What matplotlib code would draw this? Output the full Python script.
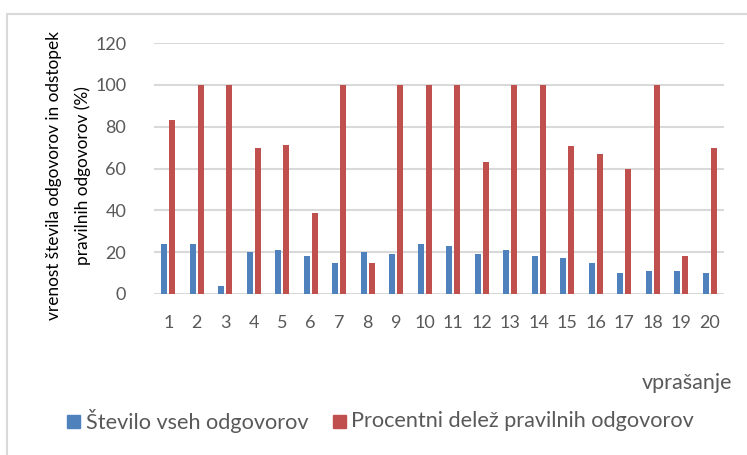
import matplotlib.pyplot as plt
import numpy as np
from matplotlib.patches import Rectangle

plt.rcParams['font.family'] = ['Lato', 'DejaVu Sans']

vprasanja = [str(i) for i in range(1, 21)]
st_odgovorov = [24, 24, 4, 20, 21, 18, 15, 20, 19, 24, 23, 19, 21, 18, 17, 15, 10, 11, 11, 10]
delez_pravilnih = [83.3, 100, 100, 70, 71.4, 38.9, 100, 15, 100, 100, 100, 63.2, 100, 100,
                   70.6, 66.7, 60, 100, 18.2, 70]
serije = ['Število vseh odgovorov', 'Procentni delež pravilnih odgovorov']

modra = '#4F81BD'
rdeca = '#C0504D'
siva = '#595959'

W, H = 747, 455
fig = plt.figure(figsize=(W / 100, H / 100), dpi=100)
ax = fig.add_axes([154 / W, 1 - 294 / H, 570 / W, 251 / H])

x = np.arange(len(vprasanja))
w = 0.21
ax.bar(x - 0.145, st_odgovorov, w, color=modra, zorder=3)
ax.bar(x + 0.145, delez_pravilnih, w, color=rdeca, zorder=3)

ax.set_xlim(-0.5, len(vprasanja) - 0.5)
ax.set_ylim(0, 120)
ax.set_yticks(range(0, 121, 20))
ax.set_xticks(x)
ax.set_xticklabels(vprasanja)
ax.grid(axis='y', color='#D9D9D9', linewidth=1.5, zorder=0)
ax.tick_params(length=0, colors=siva, labelsize=13)
ax.tick_params(axis='y', pad=20)
ax.tick_params(axis='x', pad=15)
for s in ax.spines.values():
    s.set_visible(False)

# okvir grafikona
fig.patches.append(Rectangle((7 / W, -0.1), 1.1, 1.1 - 14 / H,
                             transform=fig.transFigure, fill=False,
                             edgecolor='#D9D9D9', linewidth=1.5))

fig.text(54 / W, 1 - 176 / H, 'vrenost števila odgovorov in odstopek',
         rotation=90, ha='center', va='center', fontsize=12.4, color='black')
fig.text(83 / W, 1 - 176 / H, 'pravilnih odgovorov (%)',
         rotation=90, ha='center', va='center', fontsize=12.4, color='black')

fig.text(732 / W, 1 - 383 / H, 'vprašanje', ha='right', va='center',
         fontsize=15.5, color=siva)

# legenda
ly = 421
for kx, tx, barva, ime in [(67, 86, modra, serije[0]), (333, 351, rdeca, serije[1])]:
    fig.patches.append(Rectangle((kx / W, 1 - (ly + 6.5) / H), 13 / W, 13 / H,
                                 transform=fig.transFigure, color=barva))
    fig.text(tx / W, 1 - ly / H, ime, ha='left', va='center',
             fontsize=15.6, color=siva)

fig.savefig('out.png', dpi=100)
